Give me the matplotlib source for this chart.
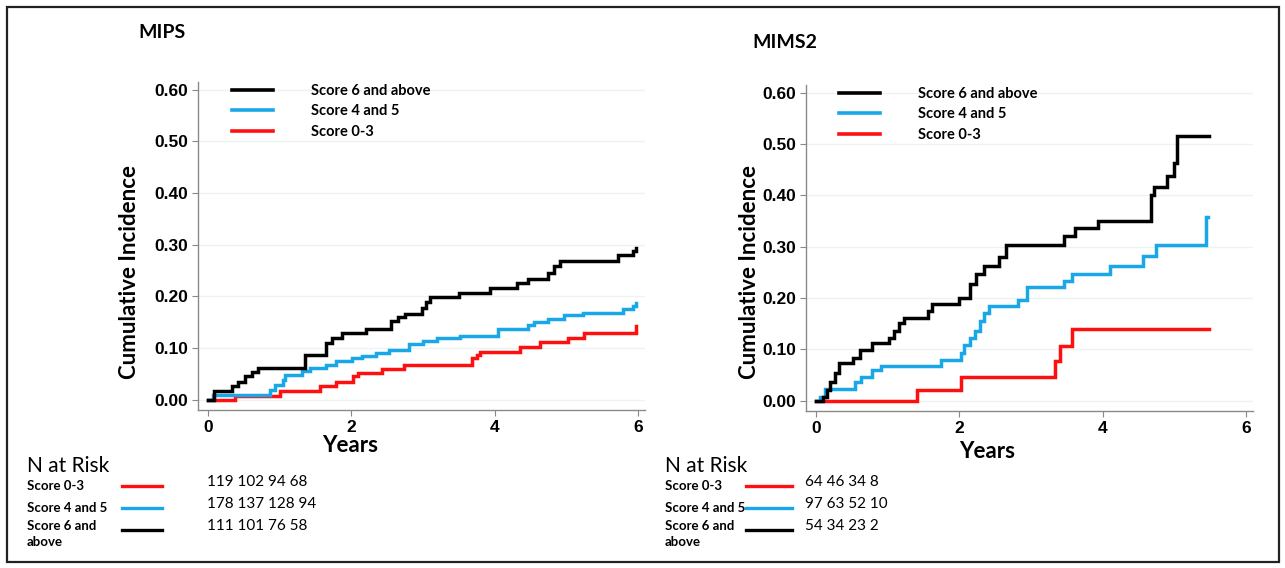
"""
Cumulative incidence curves for MIPS and MIMS2 score groups,
with the number-at-risk table under each panel.
"""

import matplotlib
matplotlib.use("Agg")
import matplotlib.pyplot as plt
from matplotlib.lines import Line2D
from matplotlib.patches import Rectangle


W, H = 1285, 568

COLOURS = {
    "Score 6 and above": "#000000",
    "Score 4 and 5":     "#1aa7e8",
    "Score 0-3":         "#ff1010",
}
LEGEND_ORDER = ["Score 6 and above", "Score 4 and 5", "Score 0-3"]
RISK_ORDER = ["Score 0-3", "Score 4 and 5", "Score 6 and above"]
RISK_LABELS = ["Score 0-3", "Score 4 and 5", "Score 6 and\nabove"]

# ---- MIPS
mips_black_t = [0, 0.09, 0.33, 0.42, 0.52, 0.61, 0.70, 1.36, 1.64, 1.73, 1.87,
                2.20, 2.55, 2.65, 2.75, 2.98, 3.04, 3.10, 3.50, 3.94, 4.32,
                4.46, 4.74, 4.83, 4.92, 5.72, 5.93, 5.98]
mips_black_v = [0, 0.017, 0.026, 0.035, 0.045, 0.053, 0.061, 0.087, 0.110,
                0.120, 0.129, 0.137, 0.152, 0.160, 0.165, 0.178, 0.190, 0.199,
                0.206, 0.216, 0.226, 0.233, 0.245, 0.259, 0.269, 0.280, 0.287,
                0.293]

mips_blue_t = [0, 0.07, 0.87, 0.94, 1.04, 1.08, 1.31, 1.43, 1.64, 1.78, 2.01,
               2.15, 2.34, 2.52, 2.80, 3.00, 3.20, 3.52, 4.05, 4.46, 4.55,
               4.74, 4.97, 5.23, 5.79, 5.93, 5.98]
mips_blue_v = [0, 0.010, 0.019, 0.029, 0.039, 0.048, 0.055, 0.061, 0.068,
               0.074, 0.081, 0.085, 0.090, 0.097, 0.108, 0.113, 0.119, 0.124,
               0.137, 0.145, 0.150, 0.156, 0.163, 0.168, 0.175, 0.182, 0.188]

mips_red_t = [0, 0.38, 1.00, 1.57, 1.78, 2.03, 2.10, 2.43, 2.73, 3.69, 3.75,
              3.80, 4.36, 4.64, 5.02, 5.25, 5.97]
mips_red_v = [0, 0.0065, 0.016, 0.026, 0.035, 0.045, 0.052, 0.060, 0.068,
              0.080, 0.087, 0.093, 0.102, 0.111, 0.119, 0.129, 0.143]

# ---- MIMS2
mims_black_t = [0, 0.10, 0.15, 0.20, 0.27, 0.32, 0.51, 0.61, 0.78, 1.02, 1.09,
                1.16, 1.23, 1.57, 1.62, 2.00, 2.15, 2.24, 2.34, 2.55, 2.65,
                3.46, 3.62, 3.94, 4.68, 4.72, 4.90, 5.00, 5.04, 5.48]
mims_black_v = [0, 0.008, 0.021, 0.037, 0.054, 0.073, 0.083, 0.099, 0.112,
                0.122, 0.135, 0.152, 0.161, 0.175, 0.188, 0.200, 0.227, 0.246,
                0.263, 0.279, 0.303, 0.321, 0.336, 0.350, 0.400, 0.416, 0.438,
                0.464, 0.515, 0.515]

mims_blue_t = [0, 0.05, 0.13, 0.54, 0.63, 0.78, 0.90, 1.74, 2.03, 2.07, 2.15,
               2.22, 2.29, 2.34, 2.41, 2.82, 2.95, 3.46, 3.58, 4.10, 4.57,
               4.75, 5.45, 5.47]
mims_blue_v = [0, 0.008, 0.022, 0.037, 0.047, 0.059, 0.068, 0.080, 0.093,
               0.109, 0.122, 0.135, 0.155, 0.171, 0.184, 0.197, 0.222, 0.233,
               0.246, 0.263, 0.281, 0.303, 0.358, 0.358]

mims_red_t = [0, 1.41, 2.03, 3.33, 3.40, 3.58, 5.48]
mims_red_v = [0, 0.021, 0.046, 0.077, 0.107, 0.139, 0.139]

# numbers at risk, rows in RISK_ORDER
mips_risk = [[119, 102, 94, 68], [178, 137, 128, 94], [111, 101, 76, 58]]
mims_risk = [[64, 46, 34, 8], [97, 63, 52, 10], [54, 34, 23, 2]]

y_ticks = [0.0, 0.1, 0.2, 0.3, 0.4, 0.5, 0.6]
x_ticks = [0, 2, 4, 6]

CAL = ["Lato", "DejaVu Sans"]
ARIAL = ["Liberation Sans", "DejaVu Sans"]


def fx(x):
    return x / W


def fy(y):
    return 1 - y / H


def add_panel(fig, box, curves, title, title_xy, ylab_xy, xlab_xy, legend_anchor):
    left, top, right, bottom = box
    ax = fig.add_axes([fx(left), fy(bottom), fx(right - left), (bottom - top) / H])
    for name, (t, v) in curves.items():
        ax.step(t, v, where="post", color=COLOURS[name], lw=2.5,
                solid_joinstyle="miter", label=name)
    ax.set_xlim(-0.14, 6.1)
    ax.set_ylim(-0.02, 0.615)
    ax.set_yticks(y_ticks)
    ax.set_yticklabels([f"{v:.2f}" for v in y_ticks], family=ARIAL,
                       fontweight="bold", fontsize=12.5)
    ax.set_xticks(x_ticks)
    ax.set_xticklabels([str(v) for v in x_ticks], family=ARIAL,
                       fontweight="bold", fontsize=12.5)
    ax.tick_params(length=4, width=0.8, color="#888888", pad=3)
    for s in ("top", "right"):
        ax.spines[s].set_visible(False)
    for s in ("left", "bottom"):
        ax.spines[s].set_color("#8a8a8a")
        ax.spines[s].set_linewidth(1.0)
    ax.grid(axis="y", color="#edf2f3", lw=1.0)
    ax.set_axisbelow(True)

    handles = [Line2D([], [], color=COLOURS[n], lw=2.6) for n in LEGEND_ORDER]
    ax.legend(handles, LEGEND_ORDER, loc="upper left", bbox_to_anchor=legend_anchor,
              frameon=False, handlelength=2.8, handletextpad=2.6,
              labelspacing=0.45, borderpad=0, borderaxespad=0,
              prop={"family": CAL, "weight": "bold", "size": 10.5})

    fig.text(fx(title_xy[0]), fy(title_xy[1]), title, family=CAL,
             fontweight="bold", fontsize=14, ha="left", va="center")
    fig.text(fx(ylab_xy[0]), fy(ylab_xy[1]), "Cumulative Incidence", family=CAL,
             fontweight="bold", fontsize=16, rotation=90, ha="center", va="center")
    fig.text(fx(xlab_xy[0]), fy(xlab_xy[1]), "Years", family=CAL,
             fontweight="bold", fontsize=16, ha="center", va="center")
    return ax


def add_risk_table(fig, x0, line_x, num_x, risk):
    fig.text(fx(x0), fy(466), "N at Risk", family=CAL, fontsize=15,
             ha="left", va="center")
    rows_y = [486, 508, 530]
    for lbl, name, vals, y in zip(RISK_LABELS, RISK_ORDER, risk, rows_y):
        ty = y if "\n" not in lbl else y + 4
        fig.text(fx(x0), fy(ty), lbl, family=CAL, fontweight="bold",
                 fontsize=9.5, ha="left", va="center", linespacing=1.35)
        fig.add_artist(Line2D([fx(line_x[0]), fx(line_x[1])], [fy(y), fy(y)],
                              color=COLOURS[name], lw=2.4))
        fig.text(fx(num_x), fy(y - 4), " ".join(str(v) for v in vals),
                 family=CAL, fontsize=11, ha="left", va="center")


fig = plt.figure(figsize=(W / 100, H / 100), dpi=100)

mips_curves = {
    "Score 0-3": (mips_red_t, mips_red_v),
    "Score 4 and 5": (mips_blue_t, mips_blue_v),
    "Score 6 and above": (mips_black_t, mips_black_v),
}
mims_curves = {
    "Score 0-3": (mims_red_t, mims_red_v),
    "Score 4 and 5": (mims_blue_t, mims_blue_v),
    "Score 6 and above": (mims_black_t, mims_black_v),
}

add_panel(fig, (198, 82, 645, 410), mips_curves, "MIPS", (138, 33),
          (130, 272), (350, 445), (34 / 447, 0.995))
add_panel(fig, (806, 85, 1253, 411), mims_curves, "MIMS2", (752, 42),
          (750, 272), (987, 452), (33 / 447, 0.995))

add_risk_table(fig, 27, (122, 162), 207, mips_risk)
add_risk_table(fig, 665, (746, 792), 805, mims_risk)

# outer frame
fig.add_artist(Rectangle((fx(7), fy(562)), fx(1279 - 7), (562 - 7) / H,
                         fill=False, edgecolor="#222222", lw=1.6))

fig.savefig("out.png", dpi=100)
